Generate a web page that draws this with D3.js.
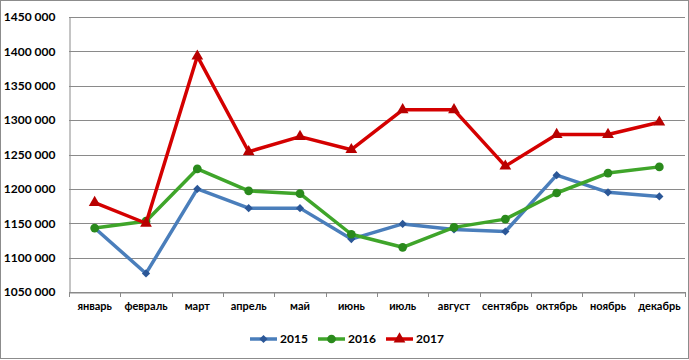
<!DOCTYPE html>
<html><head><meta charset="utf-8">
<script src="https://cdn.jsdelivr.net/npm/d3@7"></script>
<style>body{margin:0;background:#fff}svg{display:block}</style>
</head><body>
<svg id="c" width="689" height="360"></svg>
<script>
const months = ["январь","февраль","март","апрель","май","июнь","июль","август","сентябрь","октябрь","ноябрь","декабрь"];
const s2015 = [1143000,1077000,1200000,1172000,1172000,1127000,1149000,1141000,1138000,1220000,1195000,1189000];
const s2016 = [1143000,1153000,1229000,1197000,1193000,1134000,1115000,1144000,1156000,1194000,1223000,1232000];
const s2017 = [1180000,1150000,1393000,1254000,1276000,1257000,1315000,1315000,1233000,1279000,1279000,1297000];
const yTicks = [1050000,1100000,1150000,1200000,1250000,1300000,1350000,1400000,1450000];
const seriesNames = ["2015","2016","2017"];

const series = [
  {name: seriesNames[0], values: s2015, line: "#4A7EBB", mark: "#2B5797", sym: d3.symbolSquare, size: 34, rot: 45},
  {name: seriesNames[1], values: s2016, line: "#3FA52A", mark: "#2A8A1C", sym: d3.symbolCircle, size: 60, rot: 0},
  {name: seriesNames[2], values: s2017, line: "#D40000", mark: "#B80000", sym: d3.symbolTriangle, size: 60, rot: 0}
];

const svg = d3.select("#c");
const font = "Lato, 'Open Sans', sans-serif";
const L = 69, R = 685, T = 17, B = 292;

svg.append("rect").attr("x",0.5).attr("y",0.5).attr("width",688).attr("height",358)
  .attr("fill","#fff").attr("stroke","#8c8c8c").attr("stroke-width",1);

const x = d3.scaleBand().domain(months).range([L,R]);
const y = d3.scaleLinear().domain([1050000,1450000]).range([B,T]);

// gridlines
svg.append("g").selectAll("line").data(yTicks).join("line")
  .attr("x1",L).attr("x2",R)
  .attr("y1",d=>Math.round(y(d))+0.5).attr("y2",d=>Math.round(y(d))+0.5)
  .attr("stroke","#8a8a8a").attr("stroke-width",1);

// y axis
const fmt = d => { const s = String(d); return s.slice(0, s.length-3) + " " + s.slice(-3); };
const ya = svg.append("g").attr("transform",`translate(${L+0.5},0)`)
  .call(d3.axisLeft(y).tickValues(yTicks).tickSize(0).tickPadding(14).tickFormat(fmt));
ya.select(".domain").attr("stroke","#8a8a8a");
ya.selectAll("text").attr("font-family",font).attr("font-size","12px").attr("font-weight","bold").attr("fill","#000");

// x axis
const xa = svg.append("g").attr("transform",`translate(0,${Math.round(B)+0.5})`)
  .call(d3.axisBottom(x).tickSize(0).tickPadding(10));
xa.select(".domain").attr("stroke","#8a8a8a");
xa.selectAll("text").attr("font-family",font).attr("font-size","11px").attr("font-weight","bold").attr("fill","#000");
// tick marks between categories
svg.append("g").selectAll("line").data(d3.range(months.length+1)).join("line")
  .attr("x1",i=>Math.round(L + i*x.step())+0.5).attr("x2",i=>Math.round(L + i*x.step())+0.5)
  .attr("y1",B).attr("y2",B+5).attr("stroke","#8a8a8a");

const cx = m => x(m) + x.bandwidth()/2;
const line = d3.line().x((d,i)=>cx(months[i])).y(d=>y(d));

series.forEach(s => {
  svg.append("path").datum(s.values).attr("d",line)
    .attr("fill","none").attr("stroke",s.line).attr("stroke-width",3.5)
    .attr("stroke-linejoin","round");
  svg.append("g").selectAll("path").data(s.values).join("path")
    .attr("transform",(d,i)=>`translate(${cx(months[i])},${y(d)}) rotate(${s.rot})`)
    .attr("d",d3.symbol().type(s.sym).size(s.size))
    .attr("fill",s.mark);
});

// legend
const legX = [250, 318, 386];
series.forEach((s,i) => {
  const g = svg.append("g").attr("transform",`translate(${legX[i]},339)`);
  g.append("line").attr("x1",0).attr("x2",27).attr("y1",0).attr("y2",0)
    .attr("stroke",s.line).attr("stroke-width",3.5);
  g.append("path").attr("transform",`translate(13.5,0) rotate(${s.rot})`)
    .attr("d",d3.symbol().type(s.sym).size(s.size)).attr("fill",s.mark);
  g.append("text").attr("x",30).attr("y",0).attr("dy","0.35em")
    .attr("font-family",font).attr("font-size","12px").attr("font-weight","bold").text(s.name);
});
</script>
</body></html>
